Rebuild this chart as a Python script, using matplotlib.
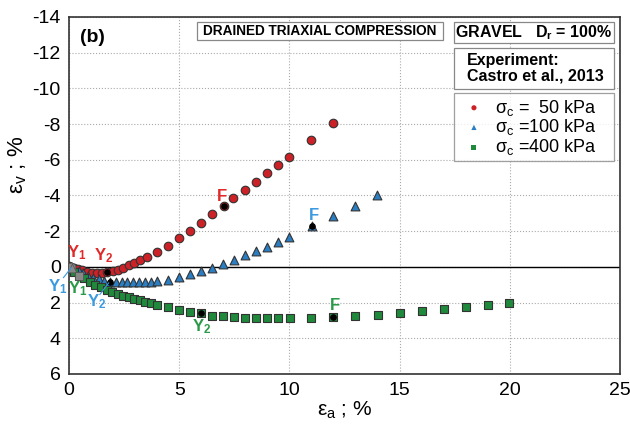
import numpy as np
import matplotlib.pyplot as plt
from matplotlib.patches import Rectangle

plt.rcParams['font.family'] = ['Liberation Sans', 'DejaVu Sans']
plt.rcParams['mathtext.default'] = 'regular'
plt.rcParams['axes.unicode_minus'] = False

# sigma_c = 50 kPa
red_x = [0, 0.1, 0.23, 0.4, 0.57, 0.8, 1.03, 1.25, 1.48, 1.71, 1.98, 2.24, 2.47, 2.72, 2.96,
         3.22, 3.52, 3.98, 4.48, 4.99, 5.47, 5.99, 6.49, 7.03, 7.46, 8.0, 8.5, 9.0, 9.5, 10.0, 11.0, 12.0]
red_y = [-0.05, 0.0, 0.08, 0.12, 0.17, 0.27, 0.34, 0.36, 0.34, 0.3, 0.22, 0.17, 0.08, -0.08, -0.2,
         -0.39, -0.58, -0.82, -1.19, -1.6, -2.03, -2.48, -2.95, -3.42, -3.85, -4.31, -4.78, -5.24,
         -5.7, -6.18, -7.1, -8.06]

# sigma_c = 100 kPa
blue_x = [0, 0.12, 0.25, 0.45, 0.65, 0.88, 1.1, 1.36, 1.59, 1.86, 2.12, 2.39, 2.65, 2.92, 3.18,
          3.45, 3.71, 3.98, 4.48, 4.99, 5.49, 5.99, 6.47, 6.97, 7.5, 7.99, 8.48, 8.97, 9.5, 10.0,
          11.04, 12.0, 12.98, 13.96]
blue_y = [0.0, 0.06, 0.12, 0.22, 0.35, 0.49, 0.6, 0.69, 0.77, 0.82, 0.83, 0.84, 0.84, 0.84, 0.84,
          0.83, 0.82, 0.8, 0.73, 0.58, 0.39, 0.22, 0.04, -0.17, -0.39, -0.67, -0.9, -1.14, -1.42,
          -1.7, -2.31, -2.86, -3.42, -4.03]

# sigma_c = 400 kPa
green_x = [0, 0.22, 0.45, 0.7, 0.95, 1.2, 1.46, 1.72, 1.97, 2.23, 2.47, 2.72, 2.96, 3.22, 3.47,
           3.72, 3.98, 4.48, 4.99, 5.49, 5.99, 6.5, 7.0, 7.5, 8.0, 8.5, 9.0, 9.5, 10.03, 11.0,
           12.0, 13.0, 14.0, 15.0, 16.0, 17.0, 18.0, 19.0, 19.98]
green_y = [0.08, 0.28, 0.5, 0.65, 0.82, 0.99, 1.14, 1.29, 1.4, 1.51, 1.61, 1.7, 1.79, 1.87, 1.96,
           2.03, 2.15, 2.26, 2.39, 2.54, 2.6, 2.73, 2.76, 2.8, 2.84, 2.86, 2.84, 2.86, 2.87, 2.86,
           2.82, 2.78, 2.69, 2.59, 2.46, 2.37, 2.24, 2.13, 2.03]

# yield / failure points (Y1 grey, Y2 and F black)
y1_pts = [(0.1, 0.0, 'o'), (0.12, 0.06, '^'), (0.45, 0.5, 's')]
black_x = [1.71, 7.03, 1.86, 11.04, 5.99, 12.0]
black_y = [0.3, -3.42, 0.82, -2.31, 2.6, 2.82]

red, blue, green = '#cc2127', '#2a7fc4', '#1f8a3b'
red_t, blue_t, green_t = '#e02a2a', '#3b9ae0', '#2b9a48'


def box(ax, x0, y0, x1, y1):
    ax.add_patch(Rectangle((x0, y0), x1 - x0, y1 - y0, transform=ax.transAxes, facecolor='white',
                           edgecolor='#888888', lw=0.9, zorder=7))


def main():
    fig = plt.figure(figsize=(6.3, 4.24), dpi=100)
    ax = fig.add_axes([0.1095, 0.118, 0.8745, 0.842])

    ax.scatter(red_x, red_y, marker='o', s=38, c=red, edgecolors='#333333', linewidths=0.8,
               zorder=3, label=r'$\sigma_c$ =  50 kPa')
    ax.scatter(blue_x, blue_y, marker='^', s=40, c=blue, edgecolors='#333333', linewidths=0.8,
               zorder=3, label=r'$\sigma_c$ =100 kPa')
    ax.scatter(green_x, green_y, marker='s', s=36, c=green, edgecolors='#333333', linewidths=0.8,
               zorder=3, label=r'$\sigma_c$ =400 kPa')
    for x, y, m in y1_pts:
        ax.scatter([x], [y], marker=m, s=40, c='#888888', edgecolors='#555555', linewidths=0.6, zorder=4)
    ax.scatter(black_x, black_y, marker='o', s=14, c='black', zorder=5)

    ax.axhline(0, color='black', lw=1.0, zorder=2)

    ax.set_xlim(0, 25)
    ax.set_ylim(6, -14)
    ax.set_xticks(np.arange(0, 26, 5))
    ax.set_yticks(np.arange(-14, 7, 2))
    ax.tick_params(length=0, labelsize=14, pad=6)
    ax.grid(color='#aaaaaa', linestyle=':', linewidth=0.8)
    for s in ax.spines.values():
        s.set_linewidth(1.2)
        s.set_color('#333333')

    ax.set_xlabel(r'$\varepsilon_a$ ; %', fontsize=15, labelpad=0)
    ax.set_ylabel(r'$\varepsilon_v$ ; %', fontsize=16, labelpad=2)
    ax.yaxis.set_label_coords(-0.072, 0.585)

    # point labels
    fk = dict(fontsize=12, fontweight='bold', ha='center', va='center', zorder=6)
    ax.text(0.36, -0.8, 'Y$_1$', color=red_t, **fk)
    ax.text(1.55, -0.65, 'Y$_2$', color=red_t, **fk)
    ax.text(6.96, -3.95, 'F', color=red_t, **fk)
    ax.text(-0.5, 1.1, 'Y$_1$', color=blue_t, **fk)
    ax.text(1.25, 1.95, 'Y$_2$', color=blue_t, **fk)
    ax.text(11.1, -2.9, 'F', color=blue_t, **fk)
    ax.text(0.38, 1.2, 'Y$_1$', color=green_t, **fk)
    ax.text(6.0, 3.35, 'Y$_2$', color=green_t, **fk)
    ax.text(12.07, 2.15, 'F', color=green_t, **fk)
    ax.plot([-0.25, 0.1], [0.6, 0.05], color=blue_t, lw=0.8, zorder=6, clip_on=False)
    ax.plot([1.4, 1.8], [1.55, 0.9], color=blue_t, lw=0.8, zorder=6)

    ax.text(0.02, 0.965, '(b)', transform=ax.transAxes, fontsize=14, fontweight='bold',
            ha='left', va='top')

    box(ax, 0.232, 0.936, 0.679, 0.986)
    ax.text(0.4555, 0.961, 'DRAINED TRIAXIAL COMPRESSION', transform=ax.transAxes, fontsize=9.8,
            fontweight='bold', ha='center', va='center', zorder=8)
    box(ax, 0.699, 0.927, 0.989, 0.986)
    ax.text(0.844, 0.955, 'GRAVEL   D$_r$ = 100%', transform=ax.transAxes, fontsize=11.5,
            fontweight='bold', ha='center', va='center', zorder=8)
    box(ax, 0.699, 0.798, 0.989, 0.913)
    ax.text(0.722, 0.856, 'Experiment:\nCastro et al., 2013', transform=ax.transAxes, fontsize=11.5,
            fontweight='bold', ha='left', va='center', zorder=8, linespacing=1.1)

    leg = ax.legend(loc='upper left', bbox_to_anchor=(0.699, 0.787, 0.29, 0.0), mode='expand',
                    fontsize=13, frameon=True, fancybox=False, edgecolor='#888888', borderaxespad=0,
                    handletextpad=0.3, labelspacing=-0.02, borderpad=0.25, markerscale=0.6,
                    handlelength=1.7)
    leg.get_frame().set_linewidth(0.9)
    leg.set_zorder(8)
    for h in leg.legend_handles:
        h.set_edgecolor('none')

    plt.savefig('out.png', dpi=100)


if __name__ == "__main__":
    main()
